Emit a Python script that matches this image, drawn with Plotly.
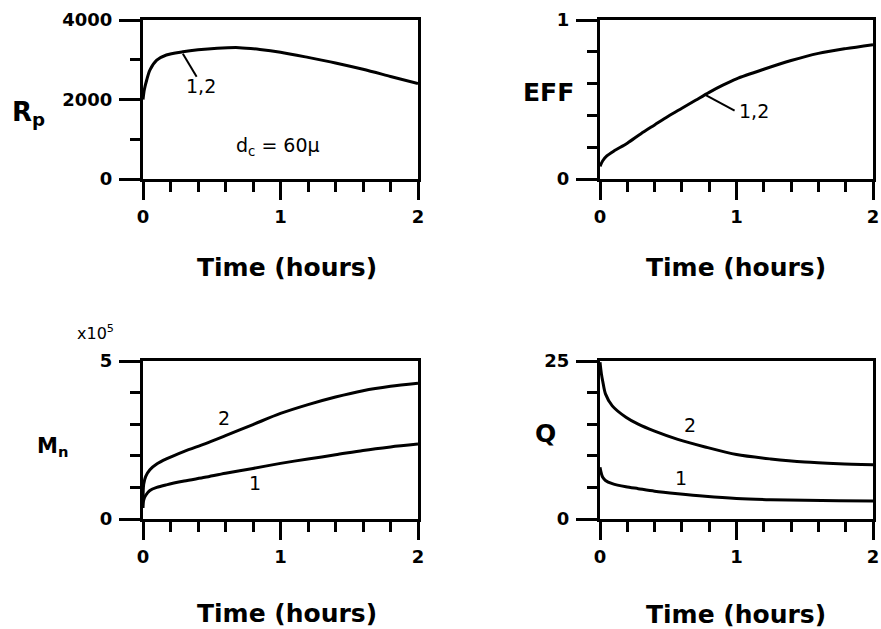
import plotly.graph_objects as go

# ---- data ----
t_rp = [0, 0.01, 0.027, 0.05, 0.1, 0.17, 0.29, 0.4, 0.54, 0.7, 0.85, 1.0, 1.2, 1.4, 1.6, 1.8, 2.0]
rp = [2000, 2250, 2490, 2740, 2990, 3120, 3200, 3250, 3290, 3305, 3260, 3190, 3060, 2920, 2760, 2580, 2400]

t_eff = [0, 0.02, 0.05, 0.1, 0.2, 0.3, 0.4, 0.5, 0.6, 0.7, 0.8, 0.9, 1.0, 1.2, 1.4, 1.6, 1.8, 2.0]
eff = [0.08, 0.115, 0.145, 0.175, 0.225, 0.285, 0.34, 0.395, 0.445, 0.495, 0.545, 0.59, 0.63, 0.69, 0.745, 0.79, 0.82, 0.845]

t_mn = [0, 0.005, 0.02, 0.05, 0.1, 0.17, 0.3, 0.45, 0.6, 0.8, 1.0, 1.2, 1.4, 1.6, 1.8, 2.0]
mn2 = [0.6, 1.1, 1.35, 1.56, 1.74, 1.9, 2.14, 2.38, 2.64, 2.99, 3.34, 3.62, 3.86, 4.06, 4.2, 4.3]
mn1 = [0.35, 0.6, 0.75, 0.9, 1.0, 1.08, 1.2, 1.32, 1.45, 1.6, 1.76, 1.9, 2.03, 2.17, 2.28, 2.37]

t_q = [0, 0.01, 0.02, 0.04, 0.09, 0.19, 0.28, 0.4, 0.57, 0.77, 1.0, 1.25, 1.5, 1.75, 2.0]
q2 = [24.8, 23.0, 21.8, 19.8, 17.9, 16.1, 15.0, 13.9, 12.6, 11.4, 10.2, 9.5, 9.0, 8.75, 8.6]
q1 = [8.2, 7.2, 6.6, 6.1, 5.6, 5.1, 4.8, 4.4, 4.0, 3.6, 3.25, 3.05, 2.95, 2.88, 2.83]

x_title = "Time (hours)"

W, H = 881, 629
def px(x):
    return x / W
def py(y):
    return 1 - y / H

LINE = dict(color="black", width=3, shape="spline", smoothing=0.8)
TICKFONT = dict(family="DejaVu Sans", size=18, color="black", weight="bold")

fig = go.Figure()
fig.add_trace(go.Scatter(x=t_rp, y=rp, mode="lines", line=LINE, xaxis="x", yaxis="y"))
fig.add_trace(go.Scatter(x=t_eff, y=eff, mode="lines", line=LINE, xaxis="x2", yaxis="y2"))
fig.add_trace(go.Scatter(x=t_mn, y=mn2, mode="lines", line=LINE, xaxis="x3", yaxis="y3"))
fig.add_trace(go.Scatter(x=t_mn, y=mn1, mode="lines", line=LINE, xaxis="x3", yaxis="y3"))
fig.add_trace(go.Scatter(x=t_q, y=q2, mode="lines", line=LINE, xaxis="x4", yaxis="y4"))
fig.add_trace(go.Scatter(x=t_q, y=q1, mode="lines", line=LINE, xaxis="x4", yaxis="y4"))

def xax(domain, anchor):
    return dict(domain=domain, anchor=anchor, range=[0, 2], tickmode="linear", tick0=0, dtick=1,
                showline=True, linewidth=3, linecolor="black", mirror=True, showgrid=False,
                zeroline=False, ticks="outside", ticklen=18, tickwidth=3, tickcolor="black",
                tickfont=TICKFONT, ticklabelstandoff=1, automargin=False,
                ticklabeloverflow="allow",
                minor=dict(ticks="outside", dtick=0.2, tick0=0, ticklen=10, tickwidth=3,
                           tickcolor="black", showgrid=False))

def yax(domain, anchor, rng, dtick, mdtick):
    return dict(domain=domain, anchor=anchor, range=rng, tickmode="linear", tick0=0, dtick=dtick,
                showline=True, linewidth=3, linecolor="black", mirror=True, showgrid=False,
                zeroline=False, ticks="outside", ticklen=21, tickwidth=3, tickcolor="black",
                tickfont=TICKFONT, ticklabelstandoff=3, automargin=False,
                ticklabeloverflow="allow",
                minor=dict(ticks="outside", dtick=mdtick, tick0=0, ticklen=10, tickwidth=3,
                           tickcolor="black", showgrid=False))

dx_left = [px(143), px(418)]
dx_right = [px(600), px(873)]
dy_top = [py(179), py(20)]
dy_bot = [py(519), py(361)]

fig.update_layout(
    width=W, height=H, margin=dict(l=0, r=0, t=0, b=0, pad=0, autoexpand=False),
    paper_bgcolor="white", plot_bgcolor="white", showlegend=False,
    xaxis=xax(dx_left, "y"),
    yaxis=yax(dy_top, "x", [0, 4000], 2000, 1000),
    xaxis2=xax(dx_right, "y2"),
    yaxis2=yax(dy_top, "x2", [0, 1], 1, 0.2),
    xaxis3=xax(dx_left, "y3"),
    yaxis3=yax(dy_bot, "x3", [0, 5], 5, 1),
    xaxis4=xax(dx_right, "y4"),
    yaxis4=yax(dy_bot, "x4", [0, 25], 25, 5),
)

TITLEFONT = dict(family="DejaVu Sans", size=25, color="black", weight="bold")
LABFONT = dict(family="DejaVu Sans", size=19, color="black")

def pann(text, cx, cy, font):
    return dict(text=text, x=px(cx), y=py(cy), xref="paper", yref="paper", showarrow=False,
                font=font, xanchor="center", yanchor="middle")

ann = []
# x-axis titles
for (cx, cy) in [(287, 267), (736, 267), (287, 613), (736, 614)]:
    ann.append(pann(x_title, cx, cy, TITLEFONT))
# y-axis titles
ann.append(pann("R<sub>p</sub>", 28, 113, dict(family="DejaVu Sans", size=26, color="black", weight="bold")))
ann.append(pann("EFF", 548, 93, dict(family="DejaVu Sans", size=25, color="black", weight="bold")))
ann.append(pann("M<sub>n</sub>", 52, 447, dict(family="DejaVu Sans", size=21, color="black", weight="bold")))
ann.append(pann("Q", 545, 433, dict(family="DejaVu Sans", size=25, color="black", weight="bold")))
ann.append(pann("x10<sup>5</sup>", 95, 332, dict(family="DejaVu Sans", size=16, color="black")))
# in-plot labels
def dann(text, x, y, xr, yr):
    return dict(text=text, x=x, y=y, xref=xr, yref=yr, showarrow=False, font=LABFONT,
                xanchor="center", yanchor="middle")
ann.append(dann("1,2", 0.42, 2340, "x", "y"))
ann.append(dann("d<sub>c</sub> = 60μ", 0.98, 805, "x", "y"))
ann.append(dann("1,2", 1.13, 0.43, "x2", "y2"))
ann.append(dann("2", 0.59, 3.2, "x3", "y3"))
ann.append(dann("1", 0.815, 1.15, "x3", "y3"))
ann.append(dann("2", 0.66, 14.8, "x4", "y4"))
ann.append(dann("1", 0.59, 6.45, "x4", "y4"))
fig.update_layout(annotations=ann)

# leader lines
fig.add_shape(type="line", x0=0.29, y0=3150, x1=0.39, y1=2570, xref="x", yref="y",
              line=dict(color="black", width=2))
fig.add_shape(type="line", x0=0.768, y0=0.53, x1=0.986, y1=0.43, xref="x2", yref="y2",
              line=dict(color="black", width=2))

fig.write_html("out.html")
